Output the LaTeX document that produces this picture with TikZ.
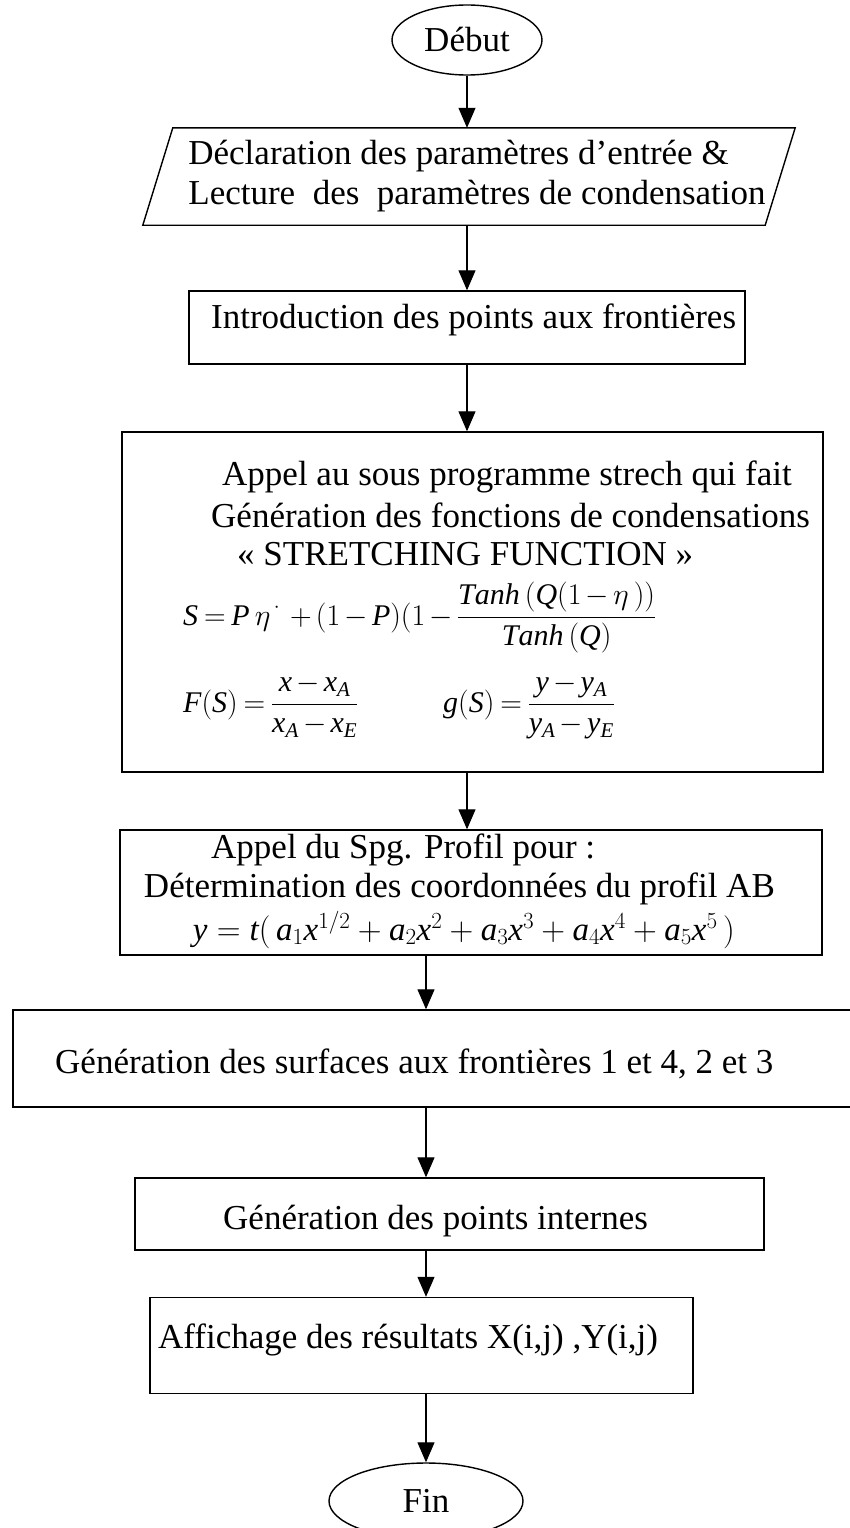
\documentclass[tikz,border=0pt]{standalone}
\usepackage{fix-cm}
\usepackage{fontspec}
\setmainfont{Liberation Serif}
\usetikzlibrary{arrows.meta,shapes.geometric}
\newcommand{\vi}[1]{\mathit{#1}}	%%%%	lettres des formules en italique Times
\newcommand{\serre}{\medmuskip=2.5mu\relax\thickmuskip=3.5mu\relax}

\begin{document}
\begin{tikzpicture}[x=1pt,y=-1pt,
	boite/.style={draw, line width=1.4pt, inner sep=0pt},
	bulle/.style={draw, ellipse, line width=1.4pt, inner sep=0pt, font=\fontsize{35}{40}\selectfont},
	texte/.style={inner sep=0pt, anchor=base west, font=\fontsize{35}{40}\selectfont},
	maths/.style={texte, font=\fontsize{30}{36}\selectfont\serre},
	fleche/.style={-{Triangle[length=20pt,width=17pt]}, line width=1.1pt}]
\useasboundingbox (0,0) rectangle (850,1528);

%%%%%%%%%%%%%%%%%%%%%%%%%%%%%%%%%%%%%%%%%%%%%%%% 	DEBUT
\node[bulle, minimum width=150pt, minimum height=70pt] (debut) at (467,40) {Début};

%%%%%%%%%%%%%%%%%%%%%%%%%%%%%%%%%%%%%%%%%%%%%%%% 	LECTURE (parallelogramme)
\node[inner sep=0pt, minimum width=622pt, minimum height=97pt, align=left,
	font=\fontsize{35}{40}\selectfont] (decl) at (477,176.5)
	{Déclaration des paramètres d’entrée \&\\Lecture\ \ des\ \ paramètres de condensation};
\draw[line width=1.4pt]					%%%%	les cotes penchent vers la droite
 ([xshift=7pt]decl.north west) -- ([xshift=7pt]decl.north east)
 -- ([xshift=-23pt]decl.south east) -- ([xshift=-23pt]decl.south west) -- cycle;

%%%%%%%%%%%%%%%%%%%%%%%%%%%%%%%%%%%%%%%%%%%%%%%% 	POINTS AUX FRONTIERES
\node[boite, minimum width=556pt, minimum height=73pt] (intro) at (467,327.5) {};
\node[texte] (t-intro) at (211,328) {Introduction des points aux frontières};

%%%%%%%%%%%%%%%%%%%%%%%%%%%%%%%%%%%%%%%%%%%%%%%% 	SOUS PROGRAMME STRECH
\node[boite, minimum width=701pt, minimum height=340pt] (strech) at (472.5,602) {};
\node[texte] (t-appel) at (222,485) {Appel au sous programme strech qui fait};
\node[texte] (t-gen) at (211,527) {Génération des fonctions de condensations};
\node[texte] (t-stretch) at (237,565) {« STRETCHING FUNCTION »};
\node[maths] (eq-s) at (183,625)
	{$\displaystyle \vi{S} = \vi{P}\,\eta^{\,\cdot}\; + (1-\vi{P})(1-\frac{\vi{Tanh}\,(\vi{Q}(1-\eta\,))}{\vi{Tanh}\,(\vi{Q})}$};
\node[maths] (eq-f) at (183,712)
	{$\displaystyle \vi{F}(\vi{S}) = \frac{\vi{x}-\vi{x}_{\vi{A}}}{\vi{x}_{\vi{A}}-\vi{x}_{\vi{E}}}$};
\node[maths] (eq-g) at (443,712)
	{$\displaystyle \vi{g}(\vi{S}) = \frac{\vi{y}-\vi{y}_{\vi{A}}}{\vi{y}_{\vi{A}}-\vi{y}_{\vi{E}}}$};

%%%%%%%%%%%%%%%%%%%%%%%%%%%%%%%%%%%%%%%%%%%%%%%% 	SPG. PROFIL
\node[boite, minimum width=702pt, minimum height=125pt] (profil) at (471,892.5) {};
\node[texte] (t-spg) at (211,858) {Appel du Spg. Profil pour :};
\node[texte, anchor=base east] (t-determ) at (775,897) {Détermination des coordonnées du profil AB};
\node[texte, anchor=base east, font=\fontsize{33}{40}\selectfont] (eq-y) at (735,940)
	{$\vi{y} = \vi{t}(\,\vi{a}_1\vi{x}^{1/2} + \vi{a}_2\vi{x}^2 + \vi{a}_3\vi{x}^3 + \vi{a}_4\vi{x}^4 + \vi{a}_5\vi{x}^5\,)$};

%%%%%%%%%%%%%%%%%%%%%%%%%%%%%%%%%%%%%%%%%%%%%%%% 	SURFACES
\node[boite, minimum width=843pt, minimum height=97pt] (surf) at (434.5,1058.5) {};
\node[texte] (t-surf) at (55,1073) {Génération des surfaces aux frontières 1 et 4, 2 et 3};

%%%%%%%%%%%%%%%%%%%%%%%%%%%%%%%%%%%%%%%%%%%%%%%% 	POINTS INTERNES
\node[boite, minimum width=629pt, minimum height=72pt] (points) at (449.5,1214) {};
\node[texte] (t-points) at (223,1229) {Génération des points internes};

%%%%%%%%%%%%%%%%%%%%%%%%%%%%%%%%%%%%%%%%%%%%%%%% 	AFFICHAGE
\node[boite, minimum width=543pt, minimum height=96pt] (affich) at (421.5,1345.5) {};
\node[texte] (t-affich) at (158,1348) {Affichage des résultats X(i,j) ,Y(i,j)};

%%%%%%%%%%%%%%%%%%%%%%%%%%%%%%%%%%%%%%%%%%%%%%%% 	FIN
\node[bulle, minimum width=194pt, minimum height=76pt] (fin) at (426,1501) {Fin};

%%%%%%%%%%%%%%%%%%%%%%%%%%%%%%%%%%%%%%%%%%%%%%%% 	FLECHES
\draw[fleche] (debut.south) -- (debut.south |- decl.north);
\draw[fleche] (decl.south -| debut) -- (intro.north -| debut);
\draw[fleche] (intro.south -| debut) -- (strech.north -| debut);
\draw[fleche] (strech.south -| debut) -- (profil.north -| debut);
\draw[fleche] (profil.south -| fin) -- (surf.north -| fin);
\draw[fleche] (surf.south -| fin) -- (points.north -| fin);
\draw[fleche] (points.south -| fin) -- (affich.north -| fin);
\draw[fleche] (affich.south -| fin) -- (fin.north);

\end{tikzpicture}
\end{document}
